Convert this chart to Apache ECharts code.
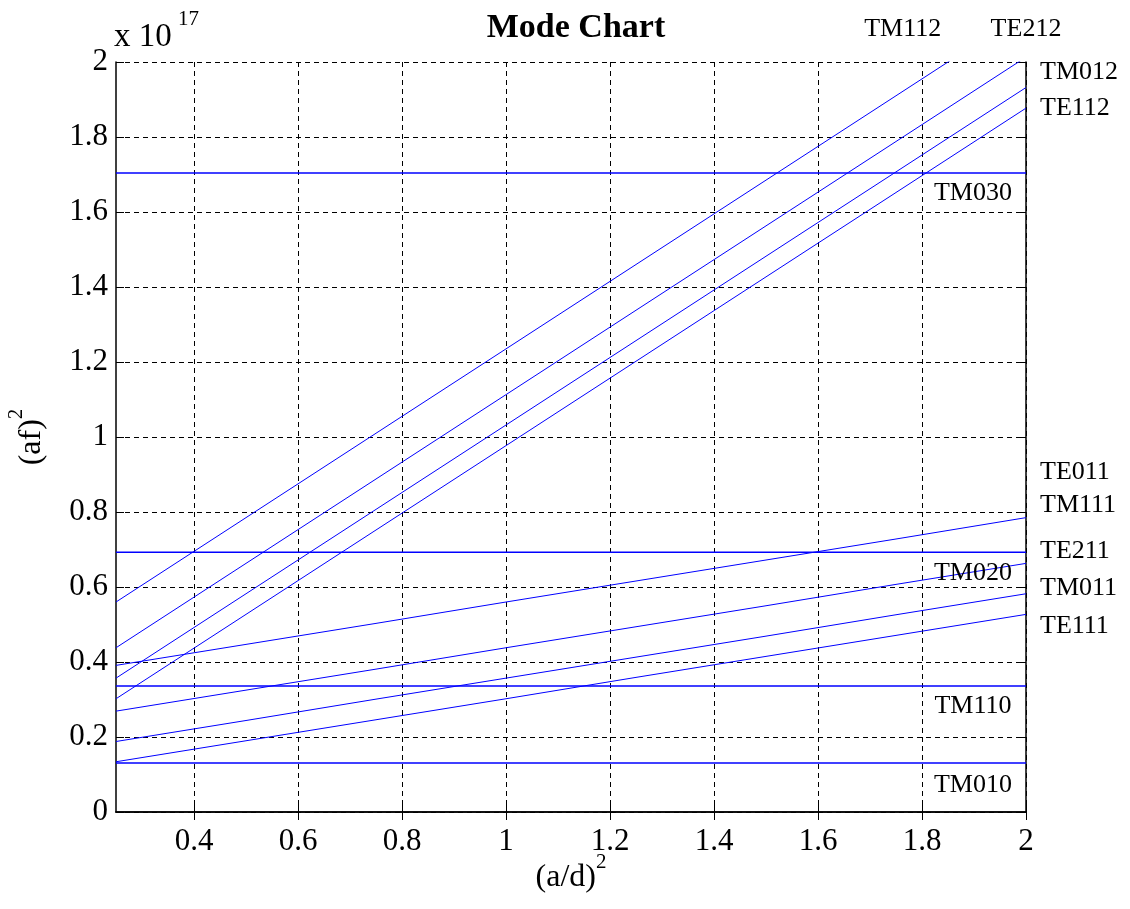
<!DOCTYPE html>
<html>
<head>
<meta charset="utf-8">
<script src="https://cdn.jsdelivr.net/npm/echarts@6/dist/echarts.min.js"></script>
<style>
html, body { margin: 0; padding: 0; background: #fff; }
#chart { width: 1130px; height: 909px; }
</style>
</head>
<body>
<div id="chart"></div>
<script>
// (a/d)^2 sample points and (af)^2 values (x 1e17)
const xs = [0.25, 0.5, 0.75, 1.0, 1.25, 1.5, 1.75, 2.0]

const te111 = [0.134, 0.190, 0.246, 0.302, 0.359, 0.415, 0.471, 0.527]
const tm011 = [0.188, 0.244, 0.301, 0.357, 0.413, 0.469, 0.526, 0.582]
const te211 = [0.269, 0.325, 0.381, 0.438, 0.494, 0.550, 0.607, 0.663]
const tm111 = [0.391, 0.447, 0.503, 0.560, 0.616, 0.672, 0.728, 0.785]
const te112 = [0.302, 0.527, 0.752, 0.977, 1.202, 1.427, 1.652, 1.877]
const tm012 = [0.357, 0.582, 0.807, 1.032, 1.257, 1.482, 1.707, 1.932]
const te212 = [0.438, 0.663, 0.888, 1.113, 1.338, 1.563, 1.788, 2.013]
const tm112 = [0.560, 0.785, 1.010, 1.235, 1.460, 1.685, 1.910, 2.135]

// TM0n0 modes do not depend on (a/d)^2
const flatNames = ['TM010', 'TM110', 'TM020', 'TM030']
const flatValues = [0.131, 0.336, 0.693, 1.704]

const xTicks = [0.4, 0.6, 0.8, 1.0, 1.2, 1.4, 1.6, 1.8, 2.0]

// mode name labels (placed in data coordinates)
const modeLabels = [
    { name: 'TM112', value: [1.763, 2.088], align: 'center' },
    { name: 'TE212', value: [2.0, 2.088], align: 'center' },
    { name: 'TM012', value: [2.027, 1.973], align: 'left' },
    { name: 'TE112', value: [2.027, 1.877], align: 'left' },
    { name: 'TM030', value: [1.898, 1.651], align: 'center' },
    { name: 'TE011', value: [2.027, 0.907], align: 'left' },
    { name: 'TM111', value: [2.027, 0.819], align: 'left' },
    { name: 'TE211', value: [2.027, 0.696], align: 'left' },
    { name: 'TM020', value: [1.898, 0.637], align: 'center' },
    { name: 'TM011', value: [2.027, 0.597], align: 'left' },
    { name: 'TE111', value: [2.027, 0.496], align: 'left' },
    { name: 'TM110', value: [1.898, 0.283], align: 'center' },
    { name: 'TM010', value: [1.898, 0.072], align: 'center' }
]

const font = 'Liberation Serif'
const blue = '#0000ff'

function pairs(ys) {
    return xs.map((x, i) => [x, ys[i]])
}

let chart = echarts.init(document.getElementById('chart'))

let lineSeries = [te111, tm011, te211, tm111, te112, tm012, te212, tm112].map(ys => {
    return {
        type: 'line',
        data: pairs(ys),
        symbol: 'none',
        silent: true,
        lineStyle: { color: blue, width: 1 }
    }
})

let flatSeries = flatValues.map((v, i) => {
    return {
        type: 'line',
        name: flatNames[i],
        data: [[0.25, v], [2.0, v]],
        symbol: 'none',
        silent: true,
        lineStyle: { color: blue, width: 1.5 }
    }
})

let supRich = {
    a: { fontFamily: font, fontSize: 32, color: '#000', lineHeight: 42, verticalAlign: 'bottom' },
    b: { fontFamily: font, fontSize: 21, color: '#000', lineHeight: 22, verticalAlign: 'top' }
}

let option = {
    animation: false,
    title: {
        text: 'Mode Chart',
        left: 571,
        textAlign: 'center',
        top: 6,
        textStyle: { fontFamily: font, fontSize: 34, fontWeight: 'bold', color: '#000' }
    },
    grid: {
        left: 116,
        right: 104,
        top: 62,
        bottom: 97,
        containLabel: false,
        outerBoundsMode: 'none'
    },
    xAxis: [{
        type: 'value',
        min: 0.25,
        max: 2,
        position: 'bottom',
        name: '{a|(a/d)}{b|2}',
        nameLocation: 'middle',
        nameGap: 40,
        nameMoveOverlap: false,
        nameTextStyle: { rich: supRich },
        axisLine: { lineStyle: { color: '#000', width: 1.5 } },
        axisTick: { inside: true, length: 8, customValues: xTicks, lineStyle: { color: '#000' } },
        axisLabel: { customValues: xTicks, margin: 14, fontFamily: font, fontSize: 31, color: '#000' },
        splitLine: { show: true, lineStyle: { color: '#000', type: [5, 4], width: 1 } }
    }, {
        type: 'value',
        min: 0.25,
        max: 2,
        position: 'top',
        axisLine: { show: true, lineStyle: { color: '#000', width: 1.5 } },
        axisTick: { inside: true, length: 8, customValues: xTicks, lineStyle: { color: '#000' } },
        axisLabel: { show: false },
        splitLine: { show: false }
    }],
    yAxis: [{
        type: 'value',
        min: 0,
        max: 2,
        interval: 0.2,
        name: '{a|(af)}{b|2}',
        nameLocation: 'middle',
        nameRotate: 90,
        nameGap: 68,
        nameTextStyle: { rich: supRich },
        axisLine: { show: true, lineStyle: { color: '#000', width: 1.5 } },
        axisTick: { inside: true, length: 8, lineStyle: { color: '#000' } },
        axisLabel: { margin: 8, fontFamily: font, fontSize: 31, color: '#000' },
        splitLine: { show: true, lineStyle: { color: '#000', type: [5, 4], width: 1 } }
    }, {
        type: 'value',
        min: 0,
        max: 2,
        interval: 0.2,
        position: 'right',
        axisLine: { show: true, lineStyle: { color: '#000', width: 1.5 } },
        axisTick: { inside: true, length: 8, lineStyle: { color: '#000' } },
        axisLabel: { show: false },
        splitLine: { show: false }
    }],
    graphic: [{
        type: 'text',
        left: 114,
        top: 21,
        style: { text: 'x 10', font: '33px "Liberation Serif"', fill: '#000' }
    }, {
        type: 'text',
        left: 178,
        top: 9,
        style: { text: '17', font: '21px "Liberation Serif"', fill: '#000' }
    }],
    series: [
        ...lineSeries,
        ...flatSeries,
        {
            type: 'scatter',
            symbolSize: 0,
            clip: false,
            silent: true,
            z: 5,
            itemStyle: { opacity: 1 },
            data: modeLabels.map(d => ({
                name: d.name,
                value: d.value,
                label: {
                    show: true,
                    position: [0, 0],
                    formatter: '{b}',
                    align: d.align,
                    verticalAlign: 'middle',
                    fontFamily: font,
                    fontSize: 26,
                    color: '#000',
                    textBorderWidth: 0
                }
            }))
        }
    ]
}
chart.setOption(option)
</script>
</body>
</html>
